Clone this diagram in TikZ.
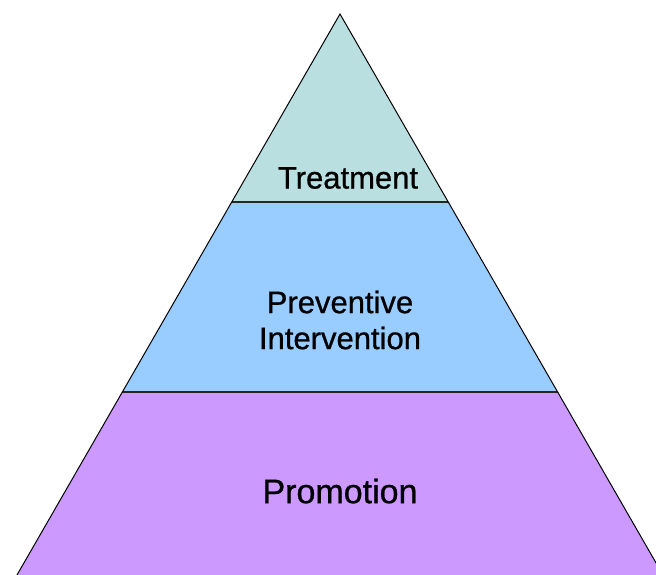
\documentclass[tikz,border=0pt]{standalone}
\usepackage{fontspec}
\setmainfont{Liberation Sans}
\newfontfamily\labelfont{Liberation Sans}[FakeBold=0.8]

\definecolor{treatfill}{HTML}{B9DFE1}
\definecolor{preventfill}{HTML}{99CCFF}
\definecolor{promofill}{HTML}{CC99FF}

\tikzset{
    divider/.style={line width=1.6pt, draw=black!85},
    label/.style={font=\labelfont\fontsize{31}{36}\selectfont, align=center, text=black}
}

\begin{document}
\begin{tikzpicture}[x=1pt, y=-1pt]
        \useasboundingbox (0, 0) rectangle (656, 575);
        \clip (0, 0) rectangle (656, 575);

        % corners of the three layers
        \coordinate (apex) at (340, 14);
        \coordinate (tl) at (231.8, 202);
        \coordinate (tr) at (448.2, 202);
        \coordinate (ml) at (122.4, 392);
        \coordinate (mr) at (557.6, 392);
        \coordinate (bl) at (17, 575);
        \coordinate (br) at (663, 575);

        \fill[treatfill] (apex) -- (tr) -- (tl) -- cycle;
        \fill[preventfill] (tl) -- (tr) -- (mr) -- (ml) -- cycle;
        \fill[promofill] (ml) -- (mr) -- (br) -- (bl) -- cycle;

        \draw[divider] (tl) -- (tr);
        \draw[divider] (ml) -- (mr);
        \draw[line width=1pt, line join=miter] (bl) -- (apex) -- (br);

        \node[label] (treat) at (348, 178) {Treatment};
        \node[label] (prevent) at (340, 320) {Preventive\\Intervention};
        \node[label, font=\labelfont\fontsize{34}{36}\selectfont] (promo) at (340, 491) {Promotion};
    \end{tikzpicture}
\end{document}
